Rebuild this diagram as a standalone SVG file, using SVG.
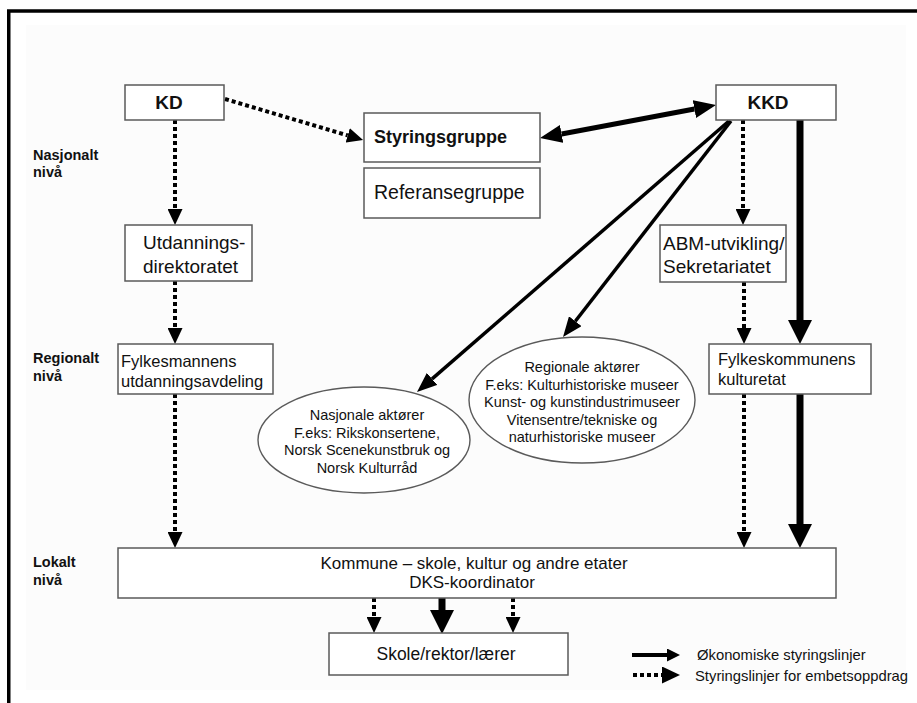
<svg xmlns="http://www.w3.org/2000/svg" width="917" height="703" viewBox="0 0 917 703">
<style>
  .box { fill: #ffffff; stroke: #5a5a5a; stroke-width: 1.5; }
  .ell { fill: #ffffff; stroke: #5a5a5a; stroke-width: 1.4; }
  text { font-family: "Liberation Sans", Arial, sans-serif; fill: #111111; }
  .b19 { font-size: 19px; font-weight: bold; }
  .r19 { font-size: 19px; }
  .r16 { font-size: 16.5px; }
  .ell-t { font-size: 14.5px; text-anchor: middle; }
  .lvl { font-size: 14.5px; font-weight: bold; }
  .low { font-size: 17px; text-anchor: middle; }
  .leg { font-size: 14.8px; }
  .dot { fill: none; stroke: #000; stroke-width: 4; stroke-dasharray: 4 3; }
  .thick { fill: none; stroke: #000; stroke-width: 7; }
  .med { fill: none; stroke: #000; stroke-width: 3.5; }
  .dbl { fill: none; stroke: #000; stroke-width: 5; }
</style>
<defs>
  <marker id="hd" viewBox="0 -7.5 16 15" refX="0" refY="0" markerWidth="16" markerHeight="15" markerUnits="userSpaceOnUse" orient="auto">
    <path d="M0,-7.5 L16,0 L0,7.5 z" fill="#000"/>
  </marker>
  <marker id="ht" viewBox="0 -12 24 24" refX="0" refY="0" markerWidth="24" markerHeight="24" markerUnits="userSpaceOnUse" orient="auto">
    <path d="M0,-12 L24,0 L0,12 z" fill="#000"/>
  </marker>
  <marker id="hm" viewBox="0 -8 20 16" refX="0" refY="0" markerWidth="20" markerHeight="16" markerUnits="userSpaceOnUse" orient="auto">
    <path d="M0,-8 L20,0 L0,8 z" fill="#000"/>
  </marker>
  <marker id="hb" viewBox="0 -9 22 18" refX="0" refY="0" markerWidth="22" markerHeight="18" markerUnits="userSpaceOnUse" orient="auto-start-reverse">
    <path d="M0,-9 L22,0 L0,9 z" fill="#000"/>
  </marker>
  <marker id="hs" viewBox="0 -6.5 13 13" refX="0" refY="0" markerWidth="13" markerHeight="13" markerUnits="userSpaceOnUse" orient="auto">
    <path d="M0,-6.5 L13,0 L0,6.5 z" fill="#000"/>
  </marker>
  <marker id="hl" viewBox="0 -8.5 18 17" refX="0" refY="0" markerWidth="18" markerHeight="17" markerUnits="userSpaceOnUse" orient="auto">
    <path d="M0,-8.5 L18,0 L0,8.5 z" fill="#000"/>
  </marker>
</defs>

<rect x="0" y="0" width="917" height="703" fill="#ffffff"/>
<rect x="26" y="25" width="880" height="665" fill="#fcfcfc"/>
<path d="M8.75,703 V11 H917" fill="none" stroke="#000" stroke-width="3.5"/>

<g id="level-labels">
  <text class="lvl" x="33" y="160">Nasjonalt</text>
  <text class="lvl" x="33" y="177">nivå</text>
  <text class="lvl" x="33" y="363">Regionalt</text>
  <text class="lvl" x="33" y="381">nivå</text>
  <text class="lvl" x="33" y="567">Lokalt</text>
  <text class="lvl" x="33" y="585">nivå</text>
</g>

<g id="connectors">
  <path class="dot" d="M225,99 L347.7,135.4" marker-end="url(#hd)"/>
  <path class="dot" d="M175,120 V209" marker-end="url(#hd)"/>
  <path class="dot" d="M175,281 V328" marker-end="url(#hd)"/>
  <path class="dot" d="M175,394 V532" marker-end="url(#hd)"/>
  <path class="dot" d="M743,120 V209" marker-end="url(#hd)"/>
  <path class="dot" d="M744,282 V328" marker-end="url(#hd)"/>
  <path class="dot" d="M744,394 V532" marker-end="url(#hd)"/>
  <path class="thick" d="M800,120 V320" marker-end="url(#ht)"/>
  <path class="thick" d="M800,394 V524" marker-end="url(#ht)"/>
  <path class="dbl" d="M561.6,133.95 L694.4,109.05" marker-start="url(#hb)" marker-end="url(#hb)"/>
  <path class="med" d="M729,121 L432.1,378.9" marker-end="url(#hm)"/>
  <path class="med" d="M731,121 L575.3,321.2" marker-end="url(#hm)"/>
  <path class="dot" d="M374,598 V617" marker-end="url(#hd)"/>
  <path class="thick" d="M442,598 V610" marker-end="url(#ht)"/>
  <path class="dot" d="M513,598 V617" marker-end="url(#hd)"/>
</g>

<g id="kd">
  <rect class="box" x="125" y="85" width="99" height="35"/>
  <text class="b19" x="169" y="109" text-anchor="middle">KD</text>
</g>
<g id="kkd">
  <rect class="box" x="716" y="85" width="120" height="35"/>
  <text class="b19" x="768" y="109" text-anchor="middle">KKD</text>
</g>
<g id="styringsgruppe">
  <rect class="box" x="364" y="113" width="176" height="49"/>
  <text x="374" y="143" style="font-size:18px;font-weight:bold">Styringsgruppe</text>
</g>
<g id="referansegruppe">
  <rect class="box" x="364" y="168" width="176" height="50"/>
  <text class="r19" x="374" y="199" style="font-size:19.5px">Referansegruppe</text>
</g>
<g id="utdanningsdirektoratet">
  <rect class="box" x="125" y="225" width="127" height="56"/>
  <text class="r19" x="143" y="249">Utdannings-</text>
  <text class="r19" x="143" y="273">direktoratet</text>
</g>
<g id="abm">
  <rect class="box" x="660" y="225" width="126" height="57"/>
  <text class="r19" x="663" y="250">ABM-utvikling/</text>
  <text class="r19" x="663" y="273">Sekretariatet</text>
</g>
<g id="fylkesmannen">
  <rect class="box" x="118" y="344" width="155" height="50"/>
  <text class="r16" x="121" y="367">Fylkesmannens</text>
  <text class="r16" x="121" y="387">utdanningsavdeling</text>
</g>
<g id="fylkeskommunen">
  <rect class="box" x="709" y="344" width="162" height="50"/>
  <text class="r16" x="718" y="365">Fylkeskommunens</text>
  <text class="r16" x="718" y="385">kulturetat</text>
</g>
<g id="nasjonale">
  <ellipse class="ell" cx="364" cy="440" rx="106" ry="53"/>
  <text class="ell-t" x="367" y="420">Nasjonale aktører</text>
  <text class="ell-t" x="367" y="437.5">F.eks: Rikskonsertene,</text>
  <text class="ell-t" x="367" y="455">Norsk Scenekunstbruk og</text>
  <text class="ell-t" x="367" y="472.5">Norsk Kulturråd</text>
</g>
<g id="regionale">
  <ellipse class="ell" cx="582" cy="400" rx="113" ry="63"/>
  <text class="ell-t" x="582" y="372">Regionale aktører</text>
  <text class="ell-t" x="582" y="389.5">F.eks: Kulturhistoriske museer</text>
  <text class="ell-t" x="582" y="407">Kunst- og kunstindustrimuseer</text>
  <text class="ell-t" x="582" y="424.5">Vitensentre/tekniske og</text>
  <text class="ell-t" x="582" y="442">naturhistoriske museer</text>
</g>
<g id="kommune">
  <rect class="box" x="118" y="548" width="718" height="50"/>
  <text class="low" x="474" y="569">Kommune – skole, kultur og andre etater</text>
  <text class="low" x="472" y="588">DKS-koordinator</text>
</g>
<g id="skole">
  <rect class="box" x="329" y="633" width="239" height="42"/>
  <text class="low" x="446" y="660" style="font-size:17.5px">Skole/rektor/lærer</text>
</g>
<g id="legend">
  <path d="M632,655 H667" fill="none" stroke="#000" stroke-width="4" marker-end="url(#hs)"/>
  <path d="M633,675 H662" fill="none" stroke="#000" stroke-width="4" stroke-dasharray="4 3" marker-end="url(#hl)"/>
  <text class="leg" x="697" y="660">Økonomiske styringslinjer</text>
  <text class="leg" x="695" y="681">Styringslinjer for embetsoppdrag</text>
</g>
</svg>
